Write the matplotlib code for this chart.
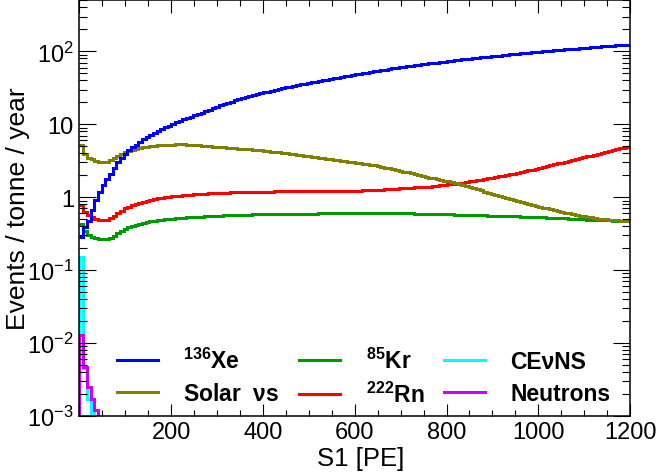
import numpy as np
import matplotlib
matplotlib.use('Agg')
import matplotlib.pyplot as plt
from matplotlib.ticker import MultipleLocator, LogLocator, NullFormatter

plt.rcParams['font.family'] = ['Liberation Sans', 'DejaVu Sans']
plt.rcParams['mathtext.fontset'] = 'custom'
plt.rcParams['mathtext.rm'] = 'Liberation Sans'
plt.rcParams['mathtext.bf'] = 'Liberation Sans:bold'
plt.rcParams['mathtext.default'] = 'regular'

# histogram binning: 8 PE bins from 0 to 1200
bin_width = 8
n_bins = 150

# events / tonne / year per bin
xe136 = [
    0.28, 0.39, 0.47, 0.66, 0.92, 1.18, 1.45, 1.75, 2.1, 2.55,
    3.0, 3.45, 3.9, 4.4, 4.85, 5.25, 5.7, 6.2, 6.6, 7.1,
    7.6, 8.1, 8.6, 9.1, 9.6, 10.1, 10.7, 11.2, 11.7, 12.2,
    12.7, 13.3, 13.9, 14.5, 15.1, 15.8, 16.6, 17.4, 18.2, 18.9,
    19.7, 20.5, 21.2, 22.0, 22.7, 23.5, 24.2, 25.0, 25.8, 26.6,
    27.3, 28.1, 28.9, 29.7, 30.5, 31.3, 32.1, 32.9, 33.7, 34.5,
    35.3, 36.2, 37.0, 37.8, 38.6, 39.4, 40.3, 41.1, 42.0, 42.9,
    43.8, 44.7, 45.6, 46.5, 47.4, 48.3, 49.3, 50.3, 51.3, 52.3,
    53.3, 54.3, 55.3, 56.3, 57.3, 58.3, 59.3, 60.3, 61.3, 62.3,
    63.3, 64.3, 65.3, 66.3, 67.3, 68.3, 69.3, 70.3, 71.3, 72.3,
    73.4, 74.4, 75.4, 76.4, 77.5, 78.5, 79.5, 80.6, 81.6, 82.6,
    83.7, 84.7, 85.7, 86.8, 87.8, 88.8, 89.9, 90.9, 91.9, 93.0,
    94.0, 95.0, 96.1, 97.1, 98.1, 99.2, 100.2, 101.2, 102.3, 103.3,
    104.3, 105.4, 106.4, 107.4, 108.5, 109.5, 110.5, 111.6, 112.6, 113.6,
    114.7, 115.7, 116.7, 117.8, 118.8, 119.8, 120.9, 121.9, 122.9, 124.0,
]

solar_nu = [
    5.2, 3.9, 3.5, 3.3, 3.15, 3.05, 3.0, 3.05, 3.2, 3.45,
    3.7, 3.95, 4.15, 4.3, 4.45, 4.6, 4.72, 4.83, 4.92, 5.0,
    5.08, 5.14, 5.19, 5.23, 5.26, 5.28, 5.3, 5.3, 5.29, 5.27,
    5.23, 5.19, 5.14, 5.09, 5.04, 5.0, 4.95, 4.9, 4.86, 4.81,
    4.77, 4.73, 4.69, 4.65, 4.61, 4.57, 4.52, 4.47, 4.42, 4.37,
    4.32, 4.27, 4.22, 4.16, 4.11, 4.05, 3.99, 3.93, 3.87, 3.81,
    3.75, 3.69, 3.63, 3.57, 3.51, 3.46, 3.41, 3.36, 3.31, 3.26,
    3.21, 3.16, 3.11, 3.07, 3.03, 2.99, 2.94, 2.89, 2.84, 2.79,
    2.73, 2.67, 2.61, 2.55, 2.49, 2.43, 2.37, 2.31, 2.25, 2.19,
    2.13, 2.07, 2.01, 1.96, 1.91, 1.86, 1.81, 1.77, 1.73, 1.69,
    1.65, 1.61, 1.57, 1.53, 1.49, 1.44, 1.39, 1.34, 1.29, 1.24,
    1.19, 1.14, 1.1, 1.07, 1.04, 1.01, 0.98, 0.95, 0.92, 0.89,
    0.86, 0.83, 0.8, 0.78, 0.76, 0.74, 0.72, 0.7, 0.68, 0.66,
    0.645, 0.63, 0.615, 0.6, 0.585, 0.57, 0.56, 0.55, 0.54, 0.53,
    0.52, 0.51, 0.5, 0.495, 0.49, 0.485, 0.48, 0.475, 0.47, 0.47,
]

rn222 = [
    0.77, 0.63, 0.57, 0.54, 0.51, 0.49, 0.48, 0.49, 0.52, 0.56,
    0.6, 0.65, 0.7, 0.74, 0.77, 0.8, 0.82, 0.85, 0.88, 0.91,
    0.94, 0.97, 0.99, 1.0, 1.01, 1.03, 1.04, 1.05, 1.06, 1.07,
    1.08, 1.09, 1.1, 1.11, 1.12, 1.13, 1.135, 1.14, 1.145, 1.15,
    1.155, 1.16, 1.165, 1.17, 1.17, 1.175, 1.18, 1.18, 1.185, 1.19,
    1.19, 1.195, 1.195, 1.2, 1.2, 1.2, 1.2, 1.2, 1.2, 1.2,
    1.2, 1.2, 1.2, 1.2, 1.2, 1.205, 1.205, 1.21, 1.21, 1.21,
    1.215, 1.215, 1.22, 1.22, 1.225, 1.23, 1.235, 1.24, 1.245, 1.25,
    1.255, 1.26, 1.27, 1.28, 1.29, 1.3, 1.31, 1.32, 1.33, 1.34,
    1.35, 1.36, 1.37, 1.38, 1.39, 1.4, 1.42, 1.44, 1.46, 1.48,
    1.5, 1.52, 1.54, 1.56, 1.59, 1.62, 1.65, 1.68, 1.71, 1.74,
    1.77, 1.81, 1.85, 1.89, 1.93, 1.97, 2.01, 2.06, 2.11, 2.16,
    2.21, 2.27, 2.33, 2.39, 2.46, 2.53, 2.6, 2.67, 2.74, 2.82,
    2.9, 2.98, 3.06, 3.15, 3.24, 3.33, 3.42, 3.52, 3.62, 3.72,
    3.83, 3.94, 4.05, 4.17, 4.29, 4.41, 4.54, 4.67, 4.8, 4.93,
]

kr85 = [
    0.43, 0.34, 0.3, 0.285, 0.275, 0.268, 0.265, 0.268, 0.278, 0.295,
    0.32, 0.345, 0.37, 0.39, 0.405, 0.42, 0.435, 0.445, 0.455, 0.465,
    0.475, 0.483, 0.49, 0.497, 0.503, 0.509, 0.514, 0.519, 0.523, 0.527,
    0.531, 0.535, 0.539, 0.543, 0.547, 0.55, 0.553, 0.556, 0.559, 0.562,
    0.565, 0.567, 0.569, 0.571, 0.573, 0.575, 0.577, 0.579, 0.581, 0.583,
    0.584, 0.585, 0.586, 0.587, 0.588, 0.589, 0.59, 0.591, 0.592, 0.593,
    0.594, 0.595, 0.596, 0.597, 0.597, 0.598, 0.598, 0.599, 0.599, 0.6,
    0.6, 0.6, 0.6, 0.6, 0.6, 0.6, 0.6, 0.6, 0.6, 0.6,
    0.6, 0.6, 0.6, 0.6, 0.6, 0.6, 0.6, 0.6, 0.6, 0.599,
    0.598, 0.597, 0.596, 0.595, 0.594, 0.592, 0.59, 0.588, 0.586, 0.584,
    0.582, 0.58, 0.578, 0.576, 0.574, 0.572, 0.57, 0.568, 0.566, 0.564,
    0.562, 0.56, 0.558, 0.556, 0.554, 0.552, 0.55, 0.548, 0.546, 0.544,
    0.542, 0.54, 0.538, 0.536, 0.534, 0.532, 0.529, 0.526, 0.523, 0.52,
    0.517, 0.514, 0.511, 0.508, 0.505, 0.502, 0.499, 0.496, 0.493, 0.49,
    0.488, 0.486, 0.484, 0.482, 0.48, 0.478, 0.476, 0.474, 0.472, 0.47,
]

# only the first bins are non-zero
cevns = [0.15, 0.0046, 0.0017, 0.0011]
neutrons = [0.0128, 0.0047, 0.0025, 0.0017, 0.0012]

edges = np.arange(n_bins + 1) * bin_width

fig = plt.figure(figsize=(6.57, 4.77), dpi=100)
ax = fig.add_axes([0.121, 0.126, 0.838, 0.871])

lw = 2.2
h_kr = ax.stairs(kr85, edges, color='#009900', lw=lw, baseline=None, label=r'$^{\mathbf{85}}$Kr')
h_rn = ax.stairs(rn222, edges, color='#ff0000', lw=lw, baseline=None, label=r'$^{\mathbf{222}}$Rn')
h_sol = ax.stairs(solar_nu, edges, color='#808000', lw=lw, baseline=None, label=r'Solar  $\nu$s')
h_xe = ax.stairs(xe136, edges, color='#0000ff', lw=lw, baseline=None, label=r'$^{\mathbf{136}}$Xe')
h_ce = ax.stairs(cevns, edges[:len(cevns) + 1], color='#00ffff', lw=lw, baseline=1e-6, label='CEνNS')
h_n = ax.stairs(neutrons, edges[:len(neutrons) + 1], color='#cc00ff', lw=lw, baseline=1e-6, label='Neutrons')

ax.set_yscale('log')
ax.set_xlim(0, 1200)
ax.set_ylim(1e-3, 500)

ax.set_xticks([0, 200, 400, 600, 800, 1000, 1200])
ax.set_xticklabels(['', '200', '400', '600', '800', '1000', '1200'])
ax.xaxis.set_minor_locator(MultipleLocator(50))
ax.set_yticks([1e-3, 1e-2, 1e-1, 1, 10, 100])
ax.set_yticklabels([r'$10^{-3}$', r'$10^{-2}$', r'$10^{-1}$', '1', '10', r'$10^{2}$'])
ax.yaxis.set_minor_locator(LogLocator(base=10, subs=np.arange(2, 10)))
ax.yaxis.set_minor_formatter(NullFormatter())

ax.tick_params(which='both', direction='in', top=True, right=True, width=0.8, labelsize=17)
ax.tick_params(axis='x', which='major', length=9, pad=4)
ax.tick_params(axis='x', which='minor', length=4.5)
ax.tick_params(axis='y', which='major', length=12.5, pad=4)
ax.tick_params(axis='y', which='minor', length=6)
for s in ax.spines.values():
    s.set_linewidth(1.1)

ax.set_xlabel('S1 [PE]', fontsize=18.5)
ax.set_ylabel('Events / tonne / year', fontsize=19)
ax.xaxis.set_label_coords(0.511, -0.072)
ax.yaxis.set_label_coords(-0.09, 0.5)

ax.legend(handles=[h_xe, h_sol, h_kr, h_rn, h_ce, h_n], ncol=3, frameon=False,
          loc='center left', bbox_to_anchor=(0.047, 0.0926), borderpad=0,
          prop={'weight': 'bold', 'size': 16.5}, handlelength=1.8, handletextpad=1.1,
          columnspacing=0.85, labelspacing=0.38)

fig.savefig('out.png', dpi=100)
